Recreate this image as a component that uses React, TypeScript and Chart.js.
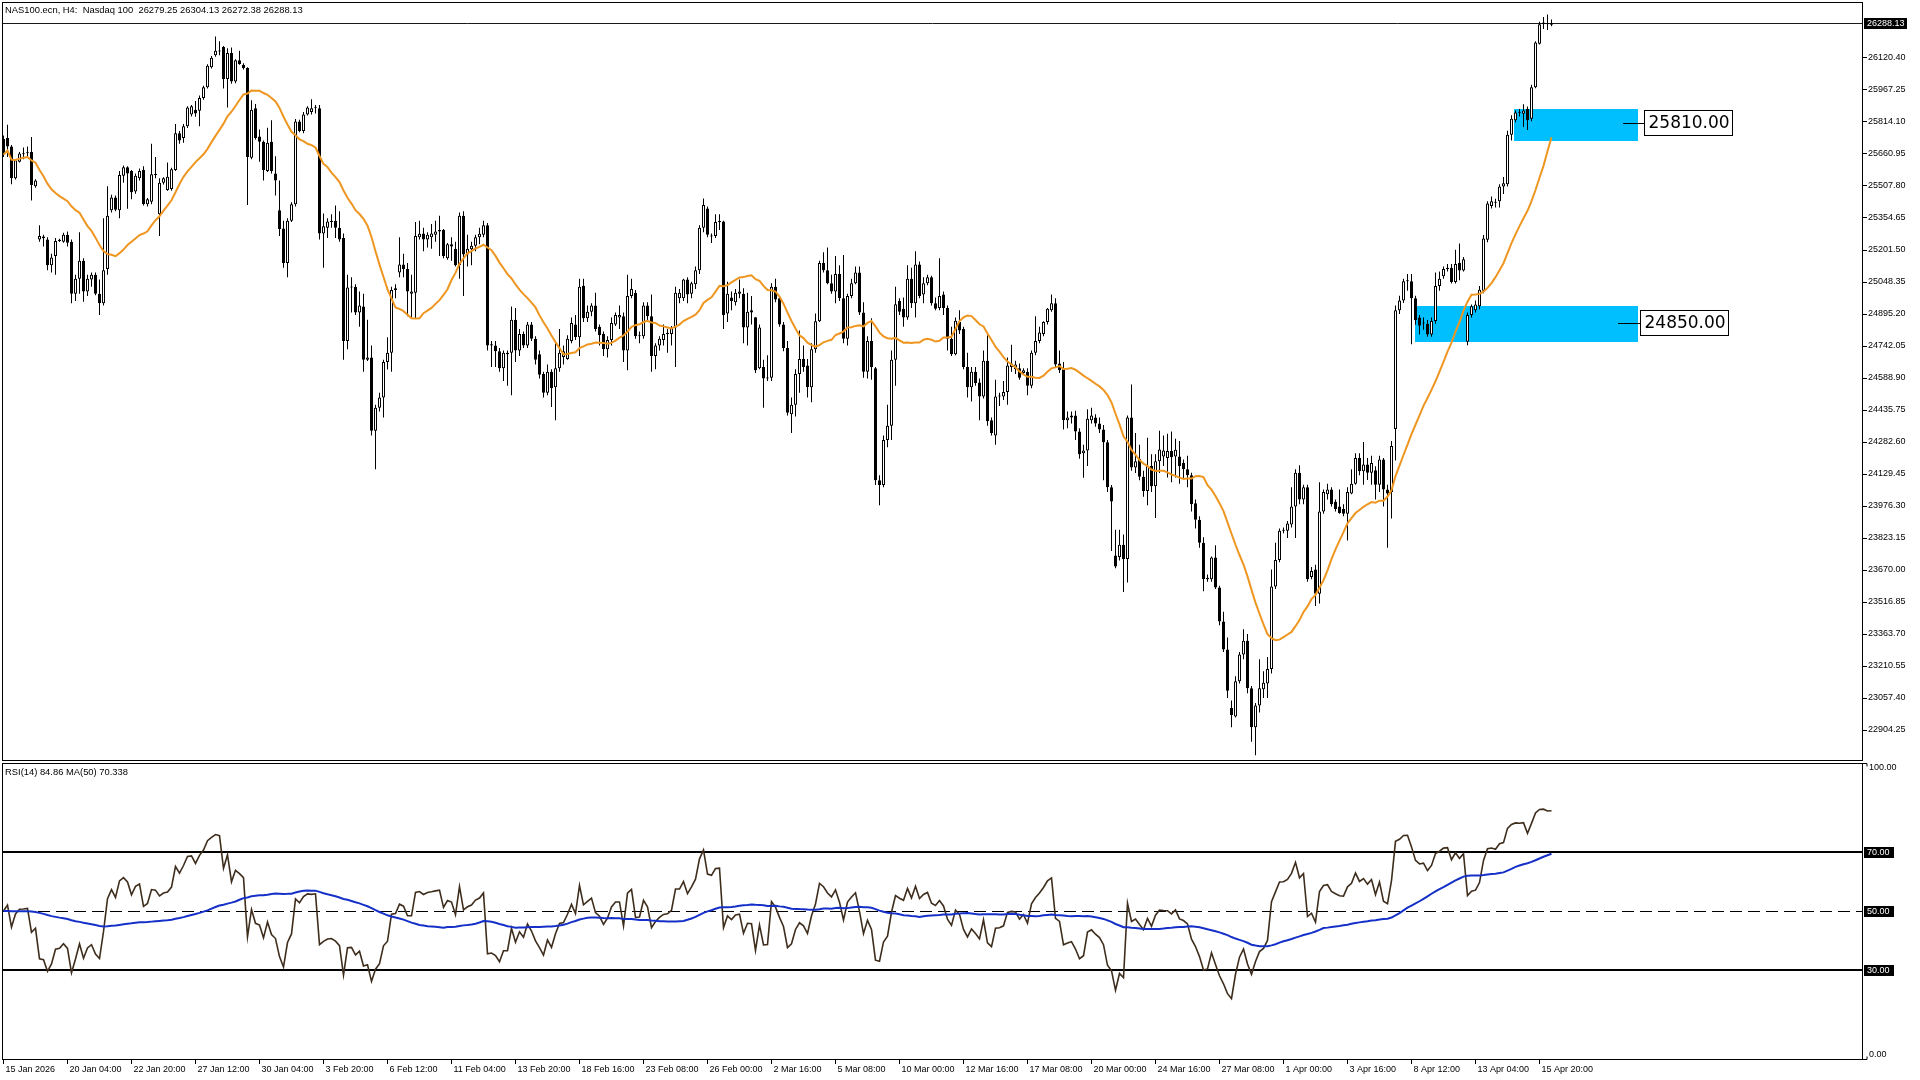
import React, { useEffect, useRef } from "react";
import { Chart, registerables } from "chart.js";

Chart.register(...registerables);

// ---------------- DATA ----------------
const opens = [
  25733,25737,25697,25545,25624,25660,25665,25670,25507,25252,
  25266,25252,25128,25173,25245,25241,25274,25241,24992,25064,
  25150,25003,25060,25083,24992,24947,25110,25392,25453,25392,
  25557,25597,25579,25482,25545,25584,25421,25433,25564,25372,
  25523,25489,25493,25584,25760,25737,25794,25850,25873,25868,
  25929,25981,26076,26133,26155,26173,26020,26144,26008,26110,
  26088,26072,25643,25880,25745,25719,25579,25719,25568,25392,
  25304,25139,25342,25421,25816,25771,25850,25862,25882,25880,
  25281,25308,25335,25342,25308,25259,24766,25022,25026,24902,
  24931,24676,24687,24337,24446,24495,24665,24710,25010,25094,
  25132,25110,24992,24997,25263,25281,25252,25263,25274,25290,
  25297,25162,25229,25207,25128,25365,25180,25205,25222,25263,
  25274,25320,24744,24744,24717,24635,24703,24710,24868,24721,
  24800,24744,24845,24777,24703,24608,24518,24619,24545,24635,
  24690,24680,24766,24845,24784,25031,24875,24906,24936,24834,
  24800,24726,24771,24845,24879,24884,24721,24981,24997,24789,
  24789,24936,24884,24694,24744,24771,24800,24800,24830,24970,
  24970,25060,24992,25037,25105,25308,25400,25270,25268,25335,
  25338,24897,24974,24951,24992,24992,24830,24913,24880,24635,
  24642,24586,24590,25026,24970,24845,24732,24416,24461,24608,
  24680,24649,24545,24726,24861,25139,25105,25042,25003,25087,
  24970,24777,24981,25042,25094,24902,24619,24766,24635,24100,
  24077,24292,24360,24676,24958,24920,24879,25064,24947,25132,
  24988,25042,25071,24947,24924,24988,24924,24777,24703,24857,
  24823,24642,24545,24619,24567,24500,24671,24387,24314,24500,
  24500,24522,24642,24631,24635,24613,24619,24552,24710,24766,
  24800,24857,24913,24947,24658,24631,24387,24400,24409,24333,
  24229,24242,24387,24400,24371,24342,24281,24066,23739,23732,
  23791,23723,24400,24161,24202,24116,24048,24168,24071,24190,
  24213,24206,24240,24213,24213,24182,24152,24124,23990,23911,
  23800,23626,23626,23730,23586,23424,23289,23011,22969,23138,
  23266,23331,23104,22918,23022,23099,23127,23196,23591,23718,
  23858,23858,23888,23974,24136,24008,24066,23637,23672,23556,
  23950,24032,24055,23997,23974,23962,23939,24036,24083,24206,
  24143,24175,24136,24148,24078,24199,24055,24043,24345,24913,
  24960,25052,25052,24971,24878,24855,24848,24797,24862,25029,
  25076,25110,25117,25048,25141,25103,24762,24890,24913,24932,
  25006,25250,25412,25430,25435,25505,25516,25753,25823,25860,
  25853,25876,25830,25980,26189,26282,26287,26279.25,
];

const highs = [
  25749,25801,25704,25636,25670,25692,25697,25742,25540,25320,
  25274,25263,25184,25259,25255,25284,25290,25252,25083,25286,
  25162,25083,25094,25094,25060,25354,25507,25466,25462,25579,
  25606,25602,25584,25568,25591,25602,25450,25710,25647,25545,
  25550,25620,25595,25805,25771,25805,25890,25895,25914,25941,
  25988,26090,26130,26223,26200,26178,26167,26171,26115,26155,
  26095,26076,25918,25900,25778,25726,25787,25823,25650,25534,
  25342,25354,25430,25828,25825,25862,25890,25923,25895,25895,
  25376,25354,25372,25415,25387,25281,25083,25071,25037,25003,
  24992,24868,24744,24461,24518,24676,24784,25026,25037,25263,
  25184,25139,25083,25335,25342,25308,25286,25326,25342,25365,
  25302,25235,25263,25241,25381,25387,25274,25241,25274,25308,
  25342,25331,24766,24766,24732,24721,24721,24931,24924,24823,
  24811,24857,24857,24789,24721,24619,24653,24631,24755,24823,
  24744,24793,24879,24890,25064,25064,24936,24947,24997,24845,
  24811,24789,24879,24902,24936,24902,25083,25064,25010,24811,
  24951,24951,24988,24755,24789,24845,24823,24838,25026,25015,
  25064,25071,25049,25123,25320,25448,25410,25281,25372,25372,
  25342,25049,25003,25015,25060,25019,24997,24981,24838,24845,
  24676,24698,25042,25064,24981,24857,24766,24495,24631,24816,
  24744,24680,24755,24897,25150,25191,25213,25083,25173,25128,
  25177,24992,25064,25123,25123,24951,24789,24875,24642,24123,
  24314,24461,24721,25026,24970,24974,25128,25116,25195,25146,
  25071,25083,25078,24974,25162,25003,24936,24834,24879,24913,
  24834,24710,24642,24642,24586,24721,24793,24400,24581,24518,
  24574,24687,24748,24671,24658,24635,24635,24721,24884,24834,
  24861,24924,24988,24970,24721,24665,24428,24428,24432,24348,
  24269,24439,24446,24416,24400,24364,24292,24077,23863,23863,
  23840,24409,24558,24326,24269,24145,24303,24224,24224,24337,
  24314,24322,24333,24298,24287,24199,24217,24136,24008,23927,
  23827,23649,23735,23788,23595,23470,23347,23046,23162,23278,
  23387,23364,23115,23034,23243,23185,23254,23672,23800,23869,
  23874,23904,24066,24152,24171,24078,24078,23684,23695,24090,
  24055,24083,24066,24008,24055,23985,24066,24152,24229,24229,
  24283,24206,24217,24166,24217,24206,24078,24287,24936,24983,
  25064,25087,25087,24983,24890,24878,24867,24878,25094,25099,
  25122,25134,25134,25203,25233,25168,24902,24941,24960,25029,
  25273,25435,25458,25447,25516,25551,25772,25846,25869,25876,
  25899,25888,25992,26201,26294,26317,26328,26304.13,
];

const lows = [
  25647,25647,25516,25539,25620,25636,25647,25439,25500,25241,
  25218,25105,25094,25083,25240,25236,25218,24947,24958,24992,
  24954,24981,25026,24985,24890,24936,25083,25381,25387,25354,
  25523,25399,25444,25471,25534,25415,25410,25421,25545,25268,
  25515,25485,25485,25579,25710,25715,25785,25840,25839,25794,
  25920,25975,26070,26126,26133,25975,25884,25997,26000,26088,
  26065,25417,25636,25730,25624,25534,25575,25568,25462,25268,
  25116,25071,25335,25410,25765,25760,25845,25850,25855,25252,
  25116,25259,25308,25259,25241,24676,24726,24902,24890,24834,
  24619,24670,24314,24152,24428,24400,24630,24619,24970,25071,
  25071,24884,24879,24875,25252,25195,25214,25207,25241,25173,
  25162,25155,25150,25123,25064,24981,25123,25128,25195,25229,
  25263,24721,24642,24642,24619,24574,24552,24506,24665,24694,
  24732,24732,24766,24653,24586,24495,24506,24450,24387,24619,
  24653,24676,24755,24771,24694,24857,24857,24884,24811,24744,
  24694,24687,24744,24838,24823,24665,24626,24970,24777,24755,
  24777,24857,24619,24631,24721,24744,24710,24744,24642,24947,
  24958,24947,24970,25015,25087,25286,25263,25235,25259,25297,
  24823,24857,24913,24936,24970,24755,24744,24845,24613,24631,
  24446,24574,24574,24951,24834,24717,24409,24326,24405,24518,
  24619,24495,24473,24710,24857,25094,25037,24992,24947,24958,
  24755,24744,24970,25037,24890,24590,24586,24581,24077,23980,
  24066,24258,24292,24552,24890,24834,24868,24924,24879,24970,
  24947,25033,24936,24913,24913,24890,24721,24694,24698,24800,
  24631,24495,24477,24552,24387,24491,24360,24314,24269,24455,
  24484,24461,24619,24608,24581,24608,24506,24540,24698,24755,
  24789,24845,24906,24642,24613,24342,24348,24371,24292,24202,
  24111,24168,24371,24355,24326,24100,24043,23761,23678,23716,
  23565,23610,24145,24134,24100,24021,23980,24043,23919,24134,
  24168,24113,24090,24113,24083,24101,24066,23950,23869,23776,
  23568,23614,23614,23579,23405,23278,23057,22918,22964,23127,
  23243,23080,22848,22783,22988,23057,23057,23175,23579,23707,
  23846,23823,23874,23823,23985,23985,23614,23626,23498,23510,
  23939,24008,23974,23950,23939,23927,23811,24032,24078,24124,
  24078,24101,24078,24008,24043,23974,23776,23916,24194,24895,
  24948,25006,24751,24844,24797,24820,24786,24786,24848,25006,
  25064,25099,25041,25041,25057,25099,24746,24878,24902,24918,
  24994,25238,25400,25405,25405,25470,25505,25725,25813,25841,
  25790,25776,25818,25976,26185,26259,26254,26272.38,
];

const closes = [
  25658,25697,25545,25631,25663,25665,25668,25512,25534,25268,
  25258,25128,25166,25245,25250,25274,25236,24992,25064,25150,
  25003,25064,25083,24992,24947,25105,25365,25453,25394,25561,
  25597,25568,25478,25557,25579,25421,25444,25564,25560,25523,
  25545,25552,25588,25760,25726,25794,25884,25889,25855,25929,
  25981,26083,26121,26155,26151,26020,26144,26008,26110,26092,
  26072,25647,25873,25737,25719,25584,25715,25579,25534,25302,
  25139,25342,25421,25816,25771,25850,25884,25880,25886,25281,
  25315,25338,25342,25308,25252,24766,25022,25026,24902,24936,
  24676,24687,24337,24446,24495,24665,24710,25010,25019,25132,
  25110,25003,25003,25268,25279,25252,25274,25281,25290,25297,
  25173,25229,25218,25128,25365,25180,25207,25222,25263,25279,
  25320,24744,24750,24717,24635,24710,24710,24868,24721,24800,
  24744,24845,24777,24676,24604,24518,24619,24540,24635,24710,
  24717,24777,24852,24784,25026,24875,24906,24936,24823,24793,
  24726,24771,24852,24890,24890,24721,24981,25015,24789,24793,
  24936,24884,24694,24744,24777,24800,24805,24830,24997,24997,
  25060,24988,25042,25105,25308,25417,25274,25266,25335,25340,
  24890,24992,24958,24997,25003,24830,24906,24902,24626,24830,
  24586,24590,25026,24965,24845,24732,24423,24461,24608,24680,
  24642,24545,24726,24861,25139,25105,25042,25003,25087,24970,
  24777,24981,25042,25094,24902,24619,24766,24642,24100,24077,
  24292,24360,24676,24942,24906,24879,25064,24947,25132,24981,
  25042,25071,24947,24920,24981,24924,24777,24703,24863,24816,
  24642,24545,24619,24565,24500,24671,24382,24326,24500,24505,
  24522,24649,24658,24653,24590,24626,24552,24710,24766,24807,
  24857,24920,24947,24653,24626,24387,24400,24409,24333,24224,
  24242,24394,24409,24371,24342,24281,24066,23998,23687,23791,
  23723,24400,24161,24190,24116,24048,24168,24071,24190,24247,
  24242,24240,24210,24245,24166,24152,24124,23985,23911,23800,
  23626,23633,23730,23586,23424,23289,23092,22976,23138,23266,
  23331,23104,22918,23022,23104,23131,23196,23591,23718,23858,
  23862,23892,23974,24136,24008,24066,23626,23665,23556,23950,
  24043,24055,23985,23962,23943,23939,24043,24083,24206,24143,
  24175,24136,24182,24078,24199,24055,24036,24264,24913,24960,
  25052,25057,24971,24867,24839,24850,24797,24862,25029,25064,
  25110,25117,25048,25134,25103,25157,24890,24932,24941,25011,
  25257,25424,25435,25428,25505,25521,25753,25830,25860,25858,
  25869,25823,25980,26194,26282,26290,26282,26288.13,
];

const xTickLabels = [
  "15 Jan 2026", "20 Jan 04:00", "22 Jan 20:00", "27 Jan 12:00", "30 Jan 04:00",
  "3 Feb 20:00", "6 Feb 12:00", "11 Feb 04:00", "13 Feb 20:00", "18 Feb 16:00",
  "23 Feb 08:00", "26 Feb 00:00", "2 Mar 16:00", "5 Mar 08:00", "10 Mar 00:00",
  "12 Mar 16:00", "17 Mar 08:00", "20 Mar 00:00", "24 Mar 16:00", "27 Mar 08:00",
  "1 Apr 00:00", "3 Apr 16:00", "8 Apr 12:00", "13 Apr 04:00", "15 Apr 20:00",
];
const xTickEvery = 16;

const priceTicks = [
  26120.40, 25967.25, 25814.10, 25660.95, 25507.80, 25354.65, 25201.50, 25048.35,
  24895.20, 24742.05, 24588.90, 24435.75, 24282.60, 24129.45, 23976.30, 23823.15,
  23670.00, 23516.85, 23363.70, 23210.55, 23057.40, 22904.25,
];

const zoneTop = [25876, 24933];
const zoneBottom = [25723, 24761];
const zoneStartBar = [377.6, 352.9];
const zoneEndBar = [408.6, 408.6];

const levelPrices = [25810.0, 24850.0];
const levelLineFromBar = [404.9, 403.6];
const levelBoxFromBar = [410.1, 409.1];

const lastPrice = 26288.13;
const rsiLevels = [70, 50, 30];
const headerText = "NAS100.ecn, H4:  Nasdaq 100  26279.25 26304.13 26272.38 26288.13";
const rsiHeaderText = "RSI(14) 84.86 MA(50) 70.338";

const MA_PERIOD = 20;
const RSI_PERIOD = 14;
const RSI_MA_PERIOD = 50;
const RSI_NEUTRAL = 50;

// ---------------- indicator helpers ----------------
function sma(values: number[], n: number): number[] {
  return values.map((_, i) => {
    const s = Math.max(0, i - n + 1);
    let sum = 0;
    for (let k = s; k <= i; k++) sum += values[k];
    return sum / (i - s + 1);
  });
}

// moving average whose warm-up (before the first visible bar) is a neutral level
function smaWithPrior(values: number[], n: number, prior: number): number[] {
  return values.map((_, i) => {
    const s = Math.max(0, i - n + 1);
    let sum = 0;
    for (let k = s; k <= i; k++) sum += values[k];
    const missing = n - (i - s + 1);
    return (sum + missing * prior) / n;
  });
}

function rsiCalc(values: number[], n: number): number[] {
  const out: number[] = new Array(values.length);
  let absSum = 0;
  for (let i = 1; i <= n; i++) absSum += Math.abs(values[i] - values[i - 1]);
  // neutral warm-up: equal average gain and loss
  let ag = absSum / n / 2, al = absSum / n / 2;
  out[0] = 50;
  for (let i = 1; i < values.length; i++) {
    const d = values[i] - values[i - 1];
    ag = (ag * (n - 1) + Math.max(d, 0)) / n;
    al = (al * (n - 1) + Math.max(-d, 0)) / n;
    out[i] = al === 0 ? 100 : 100 - 100 / (1 + ag / al);
  }
  return out;
}

const FONT = "'Liberation Sans', Arial, sans-serif";
const X_MIN = -0.375;
const X_MAX = 464.875;
const Y_MAX = 26388.4;
const Y_MIN = 22760.7;

export default function App() {
  const mainRef = useRef<HTMLCanvasElement>(null);
  const rsiRef = useRef<HTMLCanvasElement>(null);

  useEffect(() => {
    document.body.style.margin = "0";
    const ma = sma(closes, MA_PERIOD);
    const rsiVals = rsiCalc(closes, RSI_PERIOD);
    const rsiMa = smaWithPrior(rsiVals, RSI_MA_PERIOD, RSI_NEUTRAL);

    const wickData = closes.map((c, i) => ({
      x: i,
      y: [Math.min(lows[i], opens[i], c), Math.max(highs[i], opens[i], c)],
    }));
    const bodyData = closes.map((c, i) => ({ x: i, y: [opens[i], c] }));
    const bodyColors = closes.map((c, i) => (c >= opens[i] ? "#ffffff" : "#000000"));

    const zeroPad = (ax: any) => {
      ax.paddingTop = 0;
      ax.paddingBottom = 0;
      ax.paddingLeft = 0;
      ax.paddingRight = 0;
    };

    const mainPlugin = {
      id: "mainDecor",
      beforeDatasetsDraw(chart: any) {
        const { ctx, chartArea, scales } = chart;
        const x = scales.x, y = scales.y;
        ctx.save();
        ctx.beginPath();
        ctx.rect(chartArea.left, chartArea.top, chartArea.right - chartArea.left, chartArea.bottom - chartArea.top);
        ctx.clip();
        ctx.fillStyle = "#00BFFF";
        zoneTop.forEach((t, k) => {
          const x0 = Math.round(x.getPixelForValue(zoneStartBar[k]));
          const x1 = Math.round(x.getPixelForValue(zoneEndBar[k]));
          const y0 = Math.round(y.getPixelForValue(t));
          const y1 = Math.round(y.getPixelForValue(zoneBottom[k]));
          ctx.fillRect(x0, y0, x1 - x0, y1 - y0);
        });
        const yb = Math.round(y.getPixelForValue(lastPrice)) + 0.5;
        ctx.strokeStyle = "#1a1a1a";
        ctx.lineWidth = 1;
        ctx.beginPath();
        ctx.moveTo(chartArea.left, yb);
        ctx.lineTo(chartArea.right, yb);
        ctx.stroke();
        ctx.restore();
      },
      afterDraw(chart: any) {
        const { ctx, chartArea, scales } = chart;
        const x = scales.x, y = scales.y;
        ctx.save();
        ctx.font = "17px 'DejaVu Sans', sans-serif";
        levelPrices.forEach((p, k) => {
          const yy = Math.round(y.getPixelForValue(p)) + 0.5;
          const xl = Math.round(x.getPixelForValue(levelLineFromBar[k]));
          const xb = Math.round(x.getPixelForValue(levelBoxFromBar[k])) + 0.5;
          ctx.strokeStyle = "#000";
          ctx.lineWidth = 1;
          ctx.beginPath();
          ctx.moveTo(xl, yy);
          ctx.lineTo(xb, yy);
          ctx.stroke();
          const txt = p.toFixed(2);
          const w = ctx.measureText(txt).width;
          const bw = Math.round(w + 7);
          const bh = 25;
          const by = Math.round(yy - 14) + 0.5;
          ctx.fillStyle = "#fff";
          ctx.fillRect(xb, by, bw, bh);
          ctx.strokeRect(xb, by, bw, bh);
          ctx.fillStyle = "#000";
          ctx.textBaseline = "middle";
          ctx.textAlign = "left";
          ctx.fillText(txt, xb + 4, by + bh / 2 + 1);
        });
        ctx.strokeStyle = "#000";
        ctx.lineWidth = 1;
        ctx.strokeRect(chartArea.left + 0.5, chartArea.top + 0.5, chartArea.right - chartArea.left - 1, chartArea.bottom - chartArea.top);
        const yb = Math.round(y.getPixelForValue(lastPrice));
        ctx.fillStyle = "#000";
        ctx.fillRect(chartArea.right + 1, yb - 5, 43, 11);
        ctx.fillStyle = "#fff";
        ctx.font = `9px ${FONT}`;
        ctx.textBaseline = "middle";
        ctx.textAlign = "left";
        ctx.fillText(lastPrice.toFixed(2), chartArea.right + 4, yb + 0.5);
        ctx.restore();
      },
    };

    const mainChart = new Chart(mainRef.current as HTMLCanvasElement, {
      type: "bar",
      data: {
        datasets: [
          {
            type: "line",
            label: "MA",
            data: ma.map((v, i) => ({ x: i, y: v })),
            borderColor: "#EE9620",
            borderWidth: 2,
            pointRadius: 0,
            order: 0,
          } as any,
          {
            type: "bar",
            label: "body",
            data: bodyData as any,
            backgroundColor: bodyColors,
            borderColor: "#000",
            borderWidth: 1,
            borderSkipped: false,
            barThickness: 3,
            minBarLength: 1,
            grouped: false,
            inflateAmount: 0,
            order: 1,
          } as any,
          {
            type: "bar",
            label: "wick",
            data: wickData as any,
            backgroundColor: "#000",
            borderWidth: 0,
            barThickness: 1,
            grouped: false,
            inflateAmount: 0,
            order: 2,
          } as any,
        ],
      },
      options: {
        responsive: false,
        animation: false,
        devicePixelRatio: 1,
        events: [],
        layout: { padding: { left: 2, top: 2, right: 0, bottom: 1 } },
        plugins: { legend: { display: false }, tooltip: { enabled: false } },
        scales: {
          x: { type: "linear", min: X_MIN, max: X_MAX, display: false, offset: false },
          y: {
            type: "linear",
            position: "right",
            min: Y_MIN,
            max: Y_MAX,
            afterBuildTicks: (ax: any) => {
              ax.ticks = priceTicks.map((v) => ({ value: v }));
            },
            afterFit: (ax: any) => {
              ax.width = 57;
              zeroPad(ax);
            },
            ticks: {
              autoSkip: false,
              padding: 1,
              color: "#000",
              font: { family: FONT, size: 9 },
              callback: (v: any) => Number(v).toFixed(2),
            },
            grid: { drawOnChartArea: false, drawTicks: true, tickLength: 4, color: "#000" },
            border: { display: false },
          },
        },
      } as any,
      plugins: [mainPlugin],
    });

    const rsiPlugin = {
      id: "rsiDecor",
      beforeDatasetsDraw(chart: any) {
        const { ctx, chartArea, scales } = chart;
        const y = scales.y;
        ctx.save();
        rsiLevels.forEach((lv) => {
          const yy = Math.round(y.getPixelForValue(lv));
          ctx.strokeStyle = "#000";
          if (lv === 50) {
            ctx.lineWidth = 1;
            ctx.setLineDash([12, 6]);
            ctx.beginPath();
            ctx.moveTo(chartArea.left, yy + 0.5);
            ctx.lineTo(chartArea.right, yy + 0.5);
            ctx.stroke();
            ctx.setLineDash([]);
          } else {
            ctx.lineWidth = 2;
            ctx.beginPath();
            ctx.moveTo(chartArea.left, yy);
            ctx.lineTo(chartArea.right, yy);
            ctx.stroke();
          }
        });
        ctx.restore();
      },
      afterDraw(chart: any) {
        const { ctx, chartArea, scales } = chart;
        const y = scales.y;
        ctx.save();
        ctx.strokeStyle = "#000";
        ctx.lineWidth = 1;
        ctx.strokeRect(chartArea.left + 0.5, chartArea.top + 0.5, chartArea.right - chartArea.left - 1, chartArea.bottom - chartArea.top);
        ctx.font = `9px ${FONT}`;
        ctx.textAlign = "left";
        ctx.textBaseline = "middle";
        const yTop = Math.round(y.getPixelForValue(100)) + 0.5;
        const yBot = Math.round(y.getPixelForValue(0)) + 0.5;
        ctx.beginPath();
        ctx.moveTo(chartArea.right, yTop);
        ctx.lineTo(chartArea.right + 4, yTop);
        ctx.lineTo(chartArea.right + 4, yTop + 3);
        ctx.moveTo(chartArea.right, yBot);
        ctx.lineTo(chartArea.right + 4, yBot);
        ctx.lineTo(chartArea.right + 4, yBot - 3);
        ctx.stroke();
        ctx.fillStyle = "#000";
        ctx.fillText((100).toFixed(2), chartArea.right + 6, yTop + 4.5);
        ctx.fillText((0).toFixed(2), chartArea.right + 6, yBot - 5);
        rsiLevels.forEach((lv) => {
          const yy = Math.round(y.getPixelForValue(lv));
          ctx.fillStyle = "#000";
          ctx.fillRect(chartArea.right + 1, yy - 5, 30, 11);
          ctx.fillStyle = "#fff";
          ctx.fillText(lv.toFixed(2), chartArea.right + 4, yy + 0.5);
        });
        ctx.restore();
      },
    };

    const rsiChart = new Chart(rsiRef.current as HTMLCanvasElement, {
      type: "line",
      data: {
        datasets: [
          {
            label: "RSI MA",
            data: rsiMa.map((v, i) => ({ x: i, y: v })),
            borderColor: "#1530C8",
            borderWidth: 2,
            pointRadius: 0,
            order: 0,
          },
          {
            label: "RSI",
            data: rsiVals.map((v, i) => ({ x: i, y: v })),
            borderColor: "#3E2D1C",
            borderWidth: 1.6,
            pointRadius: 0,
            order: 1,
          },
        ],
      },
      options: {
        responsive: false,
        animation: false,
        devicePixelRatio: 1,
        events: [],
        layout: { padding: { left: 2, top: 2, right: 57, bottom: 0 } },
        plugins: { legend: { display: false }, tooltip: { enabled: false } },
        scales: {
          x: {
            type: "linear",
            min: X_MIN,
            max: X_MAX,
            position: "bottom",
            offset: false,
            afterBuildTicks: (ax: any) => {
              ax.ticks = xTickLabels.map((_, k) => ({ value: k * xTickEvery }));
            },
            afterFit: (ax: any) => {
              ax.height = 21;
              zeroPad(ax);
            },
            ticks: {
              autoSkip: false,
              maxRotation: 0,
              minRotation: 0,
              align: "start",
              labelOffset: 2,
              padding: 0,
              color: "#000",
              font: { family: FONT, size: 9 },
              callback: (_v: any, k: number) => xTickLabels[k],
            },
            grid: { drawOnChartArea: false, drawTicks: true, tickLength: 5, color: "#000" },
            border: { display: false },
          },
          y: { type: "linear", min: 0, max: 100, display: false },
        },
      } as any,
      plugins: [rsiPlugin],
    });

    return () => {
      mainChart.destroy();
      rsiChart.destroy();
    };
  }, []);

  const textStyle: React.CSSProperties = {
    position: "absolute",
    fontFamily: FONT,
    fontSize: 9.4,
    color: "#000",
    whiteSpace: "pre",
    lineHeight: "11px",
    zIndex: 2,
  };

  return (
    <div style={{ position: "absolute", left: 0, top: 0, width: 1920, height: 1080, background: "#fff", overflow: "hidden" }}>
      <canvas ref={mainRef} width={1920} height={761} style={{ position: "absolute", left: 0, top: 0, width: 1920, height: 761 }} />
      <canvas ref={rsiRef} width={1920} height={319} style={{ position: "absolute", left: 0, top: 761, width: 1920, height: 319 }} />
      <div style={{ ...textStyle, left: 5, top: 4 }}>{headerText}</div>
      <div style={{ ...textStyle, left: 5, top: 766 }}>{rsiHeaderText}</div>
    </div>
  );
}
